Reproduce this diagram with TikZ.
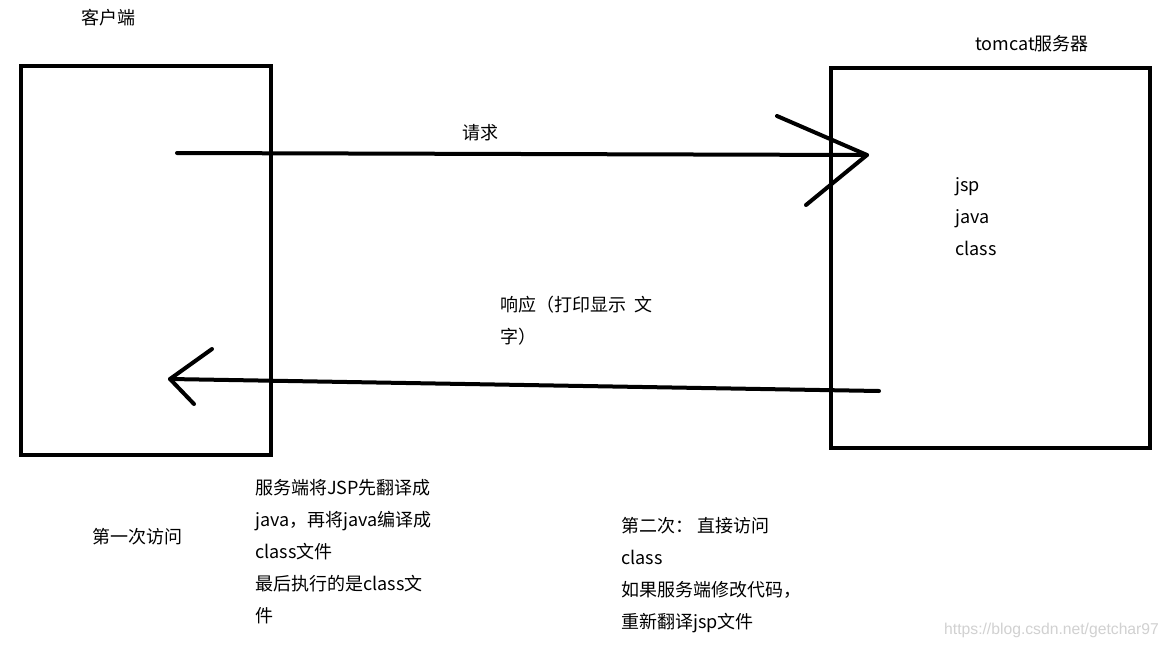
\documentclass[tikz,border=0pt]{standalone}
\usepackage{fontspec}
\setmainfont{Noto Sans CJK SC}
\newfontfamily\wmfont{Liberation Sans}
\begin{document}
\begin{tikzpicture}[x=1pt,y=-1pt,
  box/.style={draw,line width=4pt,inner sep=0pt},
  stroke/.style={line width=4pt,line cap=round,line join=round},
  lbl/.style={inner sep=0pt,font=\fontsize{18}{32}\selectfont,anchor=west},
  blk/.style={inner sep=0pt,font=\fontsize{18}{32}\selectfont,anchor=north west,align=left}]
\useasboundingbox[fill=white] (0,0) rectangle (1169,648);
% boxes
\node[box,minimum width=250pt,minimum height=389pt] (client) at (146,260.5) {};
\node[box,minimum width=319pt,minimum height=380pt] (server) at (990.5,258) {};
% titles
\node[lbl] (clientlbl) at (81,18) {客户端};
\node[lbl] (serverlbl) at (975,44) {tomcat服务器};
% request arrow
\coordinate (reqS) at (177,153);
\coordinate (reqE) at (867,155);
\coordinate (reqH1) at (777,116);
\coordinate (reqH2) at (806,205);
\draw[stroke] (reqS) -- (reqE);
\draw[stroke] (reqH1) -- (reqE) -- (reqH2);
\node[lbl] (reqlbl) at (462,133) {请求};
% response arrow
\coordinate (resS) at (879,391);
\coordinate (resE) at (170,379);
\coordinate (resH1) at (212,349);
\coordinate (resH2) at (194,404);
\draw[stroke] (resS) -- (resE);
\draw[stroke] (resH1) -- (resE) -- (resH2);
\node[blk] (reslbl) at (500,296) {响应（打印显示\ \ 文\\字）};
% server content
\node[blk] (files) at (955,177) {jsp\\java\\class};
% notes
\node[lbl] (first) at (92,537) {第一次访问};
\node[blk] (note1) at (255,479) {服务端将JSP先翻译成\\java，再将java编译成\\class文件\\最后执行的是class文\\件};
\node[blk] (note2) at (621,517) {第二次：\ 直接访问\\class\\如果服务端修改代码，\\重新翻译jsp文件};
% watermark
\node[inner sep=0pt,anchor=west,text=black!18,font=\wmfont\fontsize{15.7}{18}\selectfont] (wm) at (944,630) {https://blog.csdn.net/getchar97};
\end{tikzpicture}
\end{document}
